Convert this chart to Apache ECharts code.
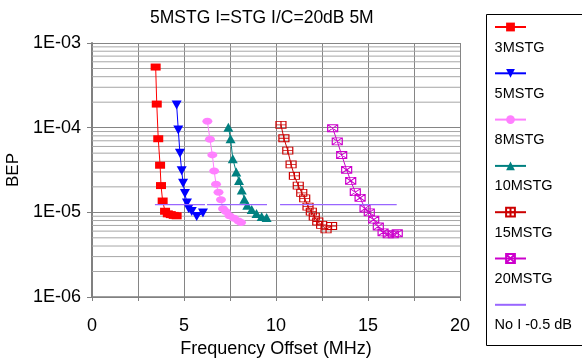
<!DOCTYPE html>
<html>
<head>
<meta charset="utf-8">
<script src="https://cdn.jsdelivr.net/npm/echarts@6/dist/echarts.min.js"></script>
<style>html,body{margin:0;padding:0;background:#fff}#c{width:582px;height:358px}</style>
</head>
<body>
<div id="c"></div>
<script>
// ---- data ----
const titleText = '5MSTG I=STG I/C=20dB 5M';
const seriesNames = ['3MSTG', '5MSTG', '8MSTG', '10MSTG', '15MSTG', '20MSTG', 'No I -0.5 dB'];
const s3x = [3.46, 3.52, 3.60, 3.70, 3.75, 3.84, 3.97, 4.12, 4.28, 4.44, 4.60];
const s3y = [5.2e-4, 1.9e-4, 7.4e-5, 3.6e-5, 2.07e-5, 1.36e-5, 1.03e-5, 9.6e-6, 9.4e-6, 9.2e-6, 9.1e-6];
const s5x = [4.60, 4.69, 4.78, 4.875, 4.95, 5.05, 5.16, 5.25, 5.42, 5.69, 6.03];
const s5y = [1.85e-4, 9.4e-5, 5.0e-5, 3.1e-5, 2.2e-5, 1.67e-5, 1.29e-5, 1.11e-5, 1.02e-5, 8.9e-6, 9.8e-6];
const s8x = [6.27, 6.41, 6.54, 6.64, 6.74, 6.875, 7.01, 7.12, 7.28, 7.47, 7.72, 7.96, 8.10];
const s8y = [1.19e-4, 7.3e-5, 4.77e-5, 3.08e-5, 2.15e-5, 1.73e-5, 1.41e-5, 1.10e-5, 1.02e-5, 9.1e-6, 8.5e-6, 7.9e-6, 7.6e-6];
const s10x = [7.41, 7.53, 7.65, 7.84, 7.99, 8.14, 8.28, 8.44, 8.68, 8.94, 9.22, 9.49];
const s10y = [1.01e-4, 7.4e-5, 4.3e-5, 3.0e-5, 2.38e-5, 1.84e-5, 1.43e-5, 1.21e-5, 1.08e-5, 9.7e-6, 8.95e-6, 8.7e-6];
const s15x = [10.27, 10.43, 10.64, 10.82, 11.0, 11.21, 11.40, 11.56, 11.74, 11.92, 12.08, 12.27, 12.48, 12.72, 13.02];
const s15y = [1.08e-4, 7.5e-5, 5.35e-5, 3.68e-5, 2.69e-5, 2.07e-5, 1.70e-5, 1.46e-5, 1.17e-5, 1.02e-5, 8.9e-6, 7.8e-6, 7.1e-6, 6.3e-6, 6.9e-6];
const s20x = [13.08, 13.33, 13.57, 13.84, 14.06, 14.31, 14.57, 14.84, 15.07, 15.31, 15.56, 15.82, 16.10, 16.375, 16.59];
const s20y = [9.85e-5, 6.9e-5, 4.76e-5, 3.17e-5, 2.35e-5, 1.73e-5, 1.48e-5, 1.11e-5, 9.97e-6, 8.2e-6, 6.8e-6, 5.8e-6, 5.5e-6, 5.5e-6, 5.66e-6];
const noIx = [3.42, 6.14, 6.2, 6.25, 9.51, 9.9, 10.22, 16.56];
const noIy = [1.23e-5, 1.23e-5, null, 1.23e-5, 1.23e-5, null, 1.23e-5, 1.23e-5];
const xTickLabels = ['0', '5', '10', '15', '20'];
const xRange = [0, 20];
const yTickValues = [1e-6, 1e-5, 1e-4, 1e-3];
const yTickLabels = ['1E-06', '1E-05', '1E-04', '1E-03'];
const minorDecades = [1e-6, 1e-5, 1e-4];
const minorMultipliers = [2, 3, 4, 5, 6, 7, 8, 9];

// ---- build ----
const FONT = "'Liberation Sans', Arial, sans-serif";
const pair = (xs, ys) => xs.map((x, i) => [x, ys[i] == null ? '-' : ys[i]]);
// minor log gridlines: one segment per minor tick value, gaps between segments
const minorGridData = [];
minorDecades.forEach(d => minorMultipliers.forEach(m => {
  const v = +(d * m).toPrecision(3);
  minorGridData.push([xRange[0], v], [xRange[1], v], [xRange[1], '-']);
}));

const pathPlus = 'path://M0,0L10,0L10,7L0,7Z M5,0L5,7 M0,3.5L10,3.5';
const pathX = 'path://M0,0L10,0L10,7L0,7Z M0,0L10,7 M10,0L0,7';

function lineSeries(name, data, color, symbol, size, extra) {
  return Object.assign({
    name, type: 'line', data, symbol, symbolSize: size,
    lineStyle: { color, width: 1 },
    itemStyle: { color },
    emphasis: { disabled: true },
    animation: false, z: 3
  }, extra || {});
}

const series = [
  {
    name: 'minorGrid', type: 'line', data: minorGridData, symbol: 'none', showSymbol: false,
    connectNulls: false, z: 1, silent: true, animation: false,
    lineStyle: { color: '#a6a6a6', width: 1 },
    emphasis: { disabled: true }
  },
  lineSeries(seriesNames[0], pair(s3x, s3y), '#FF0000', 'rect', [10, 7]),
  lineSeries(seriesNames[1], pair(s5x, s5y), '#0000FF', 'triangle', [10, 9], { symbolRotate: 180 }),
  lineSeries(seriesNames[2], pair(s8x, s8y), '#FF80FF', 'circle', [10, 7]),
  lineSeries(seriesNames[3], pair(s10x, s10y), '#008080', 'triangle', [10, 9]),
  lineSeries(seriesNames[4], pair(s15x, s15y), '#CC0000', pathPlus, [10, 7],
    { itemStyle: { color: 'rgba(255,255,255,0)', borderColor: '#CC0000', borderWidth: 1 } }),
  lineSeries(seriesNames[5], pair(s20x, s20y), '#CC00CC', pathX, [10, 7],
    { itemStyle: { color: 'rgba(255,255,255,0)', borderColor: '#CC00CC', borderWidth: 1 } }),
  lineSeries(seriesNames[6], pair(noIx, noIy), '#9966FF', 'circle', 0,
    { showSymbol: false, connectNulls: false, lineStyle: { color: '#9966FF', width: 1.2 }, z: 4 })
];

const legendIconData = seriesNames.map((n, i) => i === 6 ? { name: n, itemStyle: { opacity: 0 } } : { name: n });
const legendTextData = seriesNames.map(n => ({ name: n }));

const option = {
  backgroundColor: '#fff',
  animation: false,
  title: {
    text: titleText, left: 150, top: 9, padding: 0,
    textStyle: { fontFamily: FONT, fontSize: 17.5, fontWeight: 'normal', color: '#000' }
  },
  grid: { left: 92, right: 122, top: 43, bottom: 61, containLabel: false, outerBoundsMode: 'none' },
  xAxis: {
    type: 'value', min: xRange[0], max: xRange[1], interval: 5,
    axisLine: { show: true, onZero: false, lineStyle: { color: '#808080', width: 1.5 } },
    axisTick: { show: true, length: 4, lineStyle: { color: '#808080' } },
    minorTick: { show: true, splitNumber: 2, length: 4, lineStyle: { color: '#808080' } },
    splitLine: { show: true, lineStyle: { color: '#858585', width: 1 } },
    minorSplitLine: { show: true, lineStyle: { color: '#858585', width: 1 } },
    axisLabel: {
      margin: 20, fontFamily: FONT, fontSize: 18, color: '#000',
      formatter: v => xTickLabels[Math.round(v / 5)]
    },
    name: 'Frequency Offset (MHz)', nameLocation: 'middle', nameGap: 42,
    nameTextStyle: { fontFamily: FONT, fontSize: 18, color: '#000' }
  },
  yAxis: {
    type: 'log', logBase: 10, min: 1e-6, max: 1e-3,
    axisLine: { show: true, lineStyle: { color: '#808080', width: 2 } },
    axisTick: { show: true, length: 5, lineStyle: { color: '#808080' } },
    splitLine: { show: true, lineStyle: { color: '#858585', width: 1 } },
    axisLabel: {
      margin: 11, fontFamily: FONT, fontSize: 18, color: '#000',
      formatter: v => {
        let best = 0;
        yTickValues.forEach((t, i) => { if (Math.abs(Math.log10(t) - Math.log10(v)) < 0.01) best = i; });
        return yTickLabels[best];
      }
    },
    name: 'BEP', nameLocation: 'middle', nameGap: 68,
    nameTextStyle: { fontFamily: FONT, fontSize: 17, color: '#000' }
  },
  legend: [
    {
      data: legendIconData, orient: 'vertical', left: 494, top: 21.5, padding: 0,
      itemWidth: 31, itemHeight: 11, itemGap: 35.3, selectedMode: false,
      formatter: () => ' ',
      textStyle: { fontSize: 10, lineHeight: 11 }
    },
    {
      data: legendTextData, orient: 'vertical', left: 483, top: 40, padding: 0,
      itemWidth: 0, itemHeight: 14, itemGap: 31.3, selectedMode: false,
      itemStyle: { opacity: 0 }, lineStyle: { opacity: 0 },
      textStyle: { fontFamily: FONT, fontSize: 14.5, lineHeight: 14, color: '#000' }
    }
  ],
  graphic: [{
    type: 'rect', silent: true, z: 0,
    shape: { x: 486.5, y: 14.5, width: 100, height: 331 },
    style: { fill: 'none', stroke: '#000', lineWidth: 1 }
  }],
  series
};

const chart = echarts.init(document.getElementById('c'), null, { renderer: 'canvas' });
chart.setOption(option);
</script>
</body>
</html>
